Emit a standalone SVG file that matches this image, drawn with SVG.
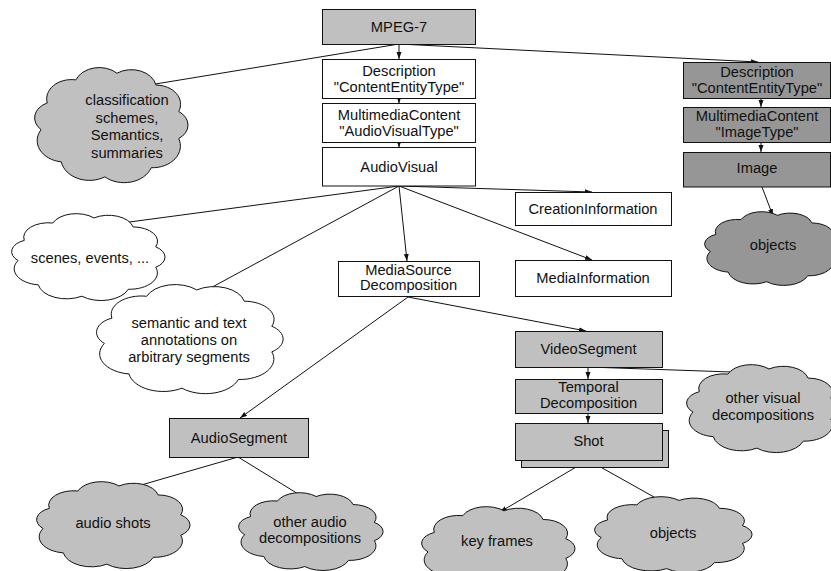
<svg xmlns="http://www.w3.org/2000/svg" xmlns:xlink="http://www.w3.org/1999/xlink" width="831" height="571" viewBox="0 0 831 571">
<style>
  text { font-family: "Liberation Sans", Arial, sans-serif; font-size: 14.7px; fill: #111; text-anchor: middle; }
  .box { stroke: #111; stroke-width: 1; fill: #ffffff; }
  .lg { fill: #c0c0c0; }
  .dg { fill: #969696; }
  .cw { fill: #ffffff; stroke: #111; }
  .cl { fill: #c0c0c0; stroke: #111; }
  .cd { fill: #969696; stroke: #111; }
  .conn line { stroke: #111; stroke-width: 1; marker-end: url(#arr); }
</style>
<defs>
  <marker id="arr" markerUnits="userSpaceOnUse" markerWidth="8" markerHeight="6" refX="7" refY="2.5" orient="auto">
    <path d="M0,0 L7,2.5 L0,5 Z" fill="#111"/>
  </marker>
  <path id="cloud" vector-effect="non-scaling-stroke" stroke-width="1" d="M6.2,53.7 A13.1,13.1 0 0 1 10.1,32.2 A15.5,15.5 0 0 1 28,13.6 A15.8,15.8 0 0 1 53.8,8.2 A15.8,15.8 0 0 1 78.3,17.8 A15.4,15.4 0 0 1 92.5,39.1 A13.1,13.1 0 0 1 92.5,60.9 A17.5,17.5 0 0 1 75.3,84.4 A18,18 0 0 1 46.2,91.8 A17.9,17.9 0 0 1 18.9,79.7 A17.3,17.3 0 0 1 6.2,53.7 Z"/>
</defs>
<rect width="831" height="571" fill="#ffffff"/>

<g id="connectors" class="conn">
  <line x1="399" y1="44" x2="399" y2="59"/>
  <line x1="399" y1="98" x2="399" y2="103.5"/>
  <line x1="399" y1="142" x2="399" y2="147.5"/>
  <line x1="399" y1="44" x2="131" y2="88"/>
  <line x1="399" y1="44" x2="758" y2="62"/>
  <line x1="761" y1="98" x2="761" y2="107"/>
  <line x1="761" y1="142" x2="761" y2="152"/>
  <line x1="762" y1="187" x2="773" y2="216"/>
  <line x1="399" y1="186" x2="92" y2="227"/>
  <line x1="399" y1="186" x2="192" y2="298"/>
  <line x1="399" y1="186" x2="407" y2="261"/>
  <line x1="399" y1="186" x2="592" y2="192"/>
  <line x1="399" y1="186" x2="592" y2="260"/>
  <line x1="408" y1="297" x2="586" y2="331"/>
  <line x1="408" y1="297" x2="240" y2="418"/>
  <line x1="588" y1="367" x2="588" y2="379"/>
  <line x1="588" y1="367" x2="760" y2="373"/>
  <line x1="588" y1="413" x2="588" y2="423"/>
  <line x1="588" y1="460" x2="500" y2="512"/>
  <line x1="588" y1="460" x2="670" y2="506"/>
  <line x1="238" y1="457" x2="117" y2="492"/>
  <line x1="238" y1="457" x2="308" y2="500"/>
</g>

<g id="mpeg7">
  <rect class="box lg" x="322.5" y="9.5" width="153" height="35"/>
  <text x="399" y="31.7">MPEG-7</text>
</g>
<g id="description">
  <rect class="box" x="322.5" y="59.5" width="153" height="39"/>
  <text x="399" y="75.7">Description</text>
  <text x="399" y="91.7">"ContentEntityType"</text>
</g>
<g id="multimedia-av">
  <rect class="box" x="322.5" y="103.5" width="153" height="39"/>
  <text x="399" y="119.7">MultimediaContent</text>
  <text x="399" y="135.7">"AudioVisualType"</text>
</g>
<g id="audiovisual">
  <rect class="box" x="322.5" y="147.5" width="153" height="38.5"/>
  <text x="399" y="172.3">AudioVisual</text>
</g>
<g id="description-image">
  <rect class="box dg" x="683.5" y="62.5" width="147" height="36"/>
  <text x="757" y="77.2">Description</text>
  <text x="757" y="93.2">"ContentEntityType"</text>
</g>
<g id="multimedia-image">
  <rect class="box dg" x="683.5" y="107.5" width="147" height="35"/>
  <text x="757" y="120.5">MultimediaContent</text>
  <text x="757" y="136.5">"ImageType"</text>
</g>
<g id="image">
  <rect class="box dg" x="683.5" y="152.5" width="147" height="34.5"/>
  <text x="757" y="172.5">Image</text>
</g>
<g id="creation-information">
  <rect class="box" x="515.5" y="192.5" width="156" height="33"/>
  <text x="593" y="213.7">CreationInformation</text>
</g>
<g id="media-information">
  <rect class="box" x="515.5" y="260.5" width="156" height="36"/>
  <text x="593" y="283.2">MediaInformation</text>
</g>
<g id="media-source-decomposition">
  <rect class="box" x="338.5" y="261.5" width="141" height="35"/>
  <text x="408.5" y="275">MediaSource</text>
  <text x="408.5" y="290">Decomposition</text>
</g>
<g id="video-segment">
  <rect class="box lg" x="515.5" y="331.5" width="147" height="36"/>
  <text x="588.5" y="354.2">VideoSegment</text>
</g>
<g id="temporal-decomposition">
  <rect class="box lg" x="515.5" y="379.5" width="147" height="34"/>
  <text x="588.5" y="392">Temporal</text>
  <text x="588.5" y="408">Decomposition</text>
</g>
<g id="shot">
  <rect class="box lg" x="521.5" y="430.5" width="147" height="37"/>
  <rect class="box lg" x="515.5" y="423.5" width="147" height="37"/>
  <text x="588.5" y="446">Shot</text>
</g>
<g id="audio-segment">
  <rect class="box lg" x="169.5" y="418.5" width="139" height="39"/>
  <text x="239" y="442.7">AudioSegment</text>
</g>

<g id="cloud-classification">
  <use xlink:href="#cloud" class="cl" transform="translate(35,68) scale(1.595,1.24) translate(-2.4,-4)"/>
  <text x="127" y="105">classification</text>
  <text x="127" y="122.5">schemes,</text>
  <text x="127" y="140">Semantics,</text>
  <text x="127" y="157.5">summaries</text>
</g>
<g id="cloud-scenes">
  <use xlink:href="#cloud" class="cw" transform="translate(12,214) scale(1.595,0.936) translate(-2.4,-4)"/>
  <text x="90" y="263">scenes, events, ...</text>
</g>
<g id="cloud-semantic">
  <use xlink:href="#cloud" class="cw" transform="translate(97,285) scale(1.94,1.175) translate(-2.4,-4)"/>
  <text x="189" y="328">semantic and text</text>
  <text x="189" y="345">annotations on</text>
  <text x="189" y="361.5">arbitrary segments</text>
</g>
<g id="cloud-objects-image">
  <use xlink:href="#cloud" class="cd" transform="translate(705,212) scale(1.408,0.794) translate(-2.4,-4)"/>
  <text x="773" y="250">objects</text>
</g>
<g id="cloud-other-visual">
  <use xlink:href="#cloud" class="cl" transform="translate(687,365) scale(1.595,0.947) translate(-2.4,-4)"/>
  <text x="763" y="403.3">other visual</text>
  <text x="763" y="420">decompositions</text>
</g>
<g id="cloud-audio-shots">
  <use xlink:href="#cloud" class="cl" transform="translate(37,482) scale(1.595,0.936) translate(-2.4,-4)"/>
  <text x="113" y="528">audio shots</text>
</g>
<g id="cloud-other-audio">
  <use xlink:href="#cloud" class="cl" transform="translate(239,493) scale(1.502,0.838) translate(-2.4,-4)"/>
  <text x="310" y="526.7">other audio</text>
  <text x="310" y="543">decompositions</text>
</g>
<g id="cloud-key-frames">
  <use xlink:href="#cloud" class="cl" transform="translate(422,507) scale(1.595,0.903) translate(-2.4,-4)"/>
  <text x="497" y="545.7">key frames</text>
</g>
<g id="cloud-objects-shot">
  <use xlink:href="#cloud" class="cl" transform="translate(595,497) scale(1.637,0.816) translate(-2.4,-4)"/>
  <text x="673" y="538">objects</text>
</g>
</svg>
